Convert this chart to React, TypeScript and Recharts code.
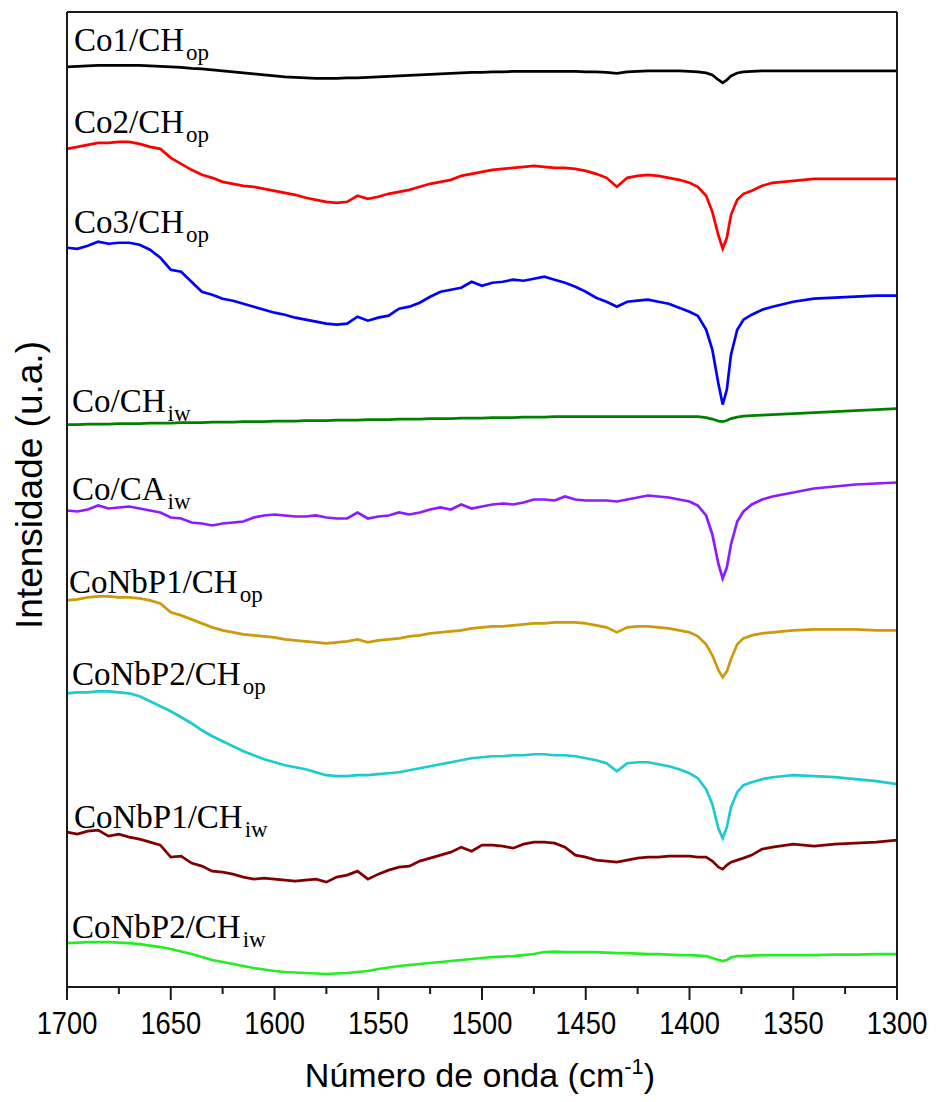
import React from 'react';
import { LineChart, Line, XAxis, YAxis } from 'recharts';

// wavenumbers (cm-1)
const wavenumbers = [
  1700, 1695, 1690, 1685, 1680, 1675, 1670, 1665, 1660, 1655,
  1650, 1645, 1640, 1635, 1630, 1625, 1620, 1615, 1610, 1605,
  1600, 1595, 1590, 1585, 1580, 1575, 1570, 1565, 1560, 1555,
  1550, 1545, 1540, 1535, 1530, 1525, 1520, 1515, 1510, 1505,
  1500, 1495, 1490, 1485, 1480, 1475, 1470, 1465, 1460, 1455,
  1450, 1445, 1440, 1435, 1430, 1425, 1420, 1415, 1410, 1405,
  1400,
  1396, 1392, 1389, 1386, 1384, 1382, 1380, 1377, 1374, 1370, 1365, 1360,
  1350, 1340, 1330, 1320, 1310, 1300,
];

// stacked intensities (a.u.), one array per sample
const co1CHop = [
  933, 933.5, 934, 934.5, 934.5, 934.5, 934.5, 934.5, 934, 933.5,
  933, 932.5, 931.5, 931, 930, 929, 928, 927, 926, 925,
  924, 923, 922.5, 922, 921.5, 921.5, 921.5, 922, 922, 922.5,
  923, 923.5, 924, 924.5, 925, 925.5, 926, 926.5, 927, 927.5,
  927.5, 928, 928, 928.5, 928.5, 928.5, 928.5, 928.5, 928.5, 928.5,
  928, 928, 927.5, 926.5, 928, 928.5, 929, 929, 929, 929,
  928.5,
  928, 927, 925, 920, 917, 920, 924, 927, 928, 928.5, 929, 929,
  929, 929, 929, 929, 929, 929,
];
const co2CHop = [
  851, 853, 855, 857, 857, 858, 858, 856, 853, 851,
  842, 836, 830, 825, 822, 818, 816, 814, 813, 811,
  809, 807, 805, 802, 800, 798, 797, 798, 804, 801,
  803, 806, 808, 810, 813, 816, 818, 820, 824, 826,
  828, 830, 831, 832, 833, 834, 833, 832, 832, 831,
  829, 826, 822, 813, 822, 824, 825, 824, 822, 820,
  817,
  813, 804, 788, 764, 751, 762, 785, 800, 806, 809, 814, 817,
  819, 821, 821, 821, 821, 821,
];
const co3CHop = [
  752, 751, 754, 758, 756, 757, 757, 755, 750, 742,
  730, 728, 718, 708, 705, 701, 699, 696, 693, 690,
  687, 685, 682, 680, 678, 676, 675, 676, 683, 679,
  682, 684, 691, 693, 697, 703, 708, 710, 712, 718,
  714, 717, 718, 720, 719, 721, 723, 720, 717, 713,
  708, 702, 698, 693, 698, 699, 700, 698, 696, 692,
  688,
  684, 670, 650, 615, 595, 610, 645, 670, 680, 685, 690, 693,
  698, 701, 702, 703, 704, 704,
];
const coCHiw = [
  575, 575, 575.5, 575.5, 575.5, 576, 576, 576, 576.5, 576.5,
  576.5, 577, 577, 577, 577.5, 577.5, 577.5, 578, 578, 578,
  578.5, 578.5, 578.5, 579, 579, 579, 579.5, 579.5, 579.5, 580,
  580, 580, 580.5, 580.5, 580.5, 581, 581, 581, 581.5, 581.5,
  581.5, 582, 582, 582, 582.5, 582.5, 582.5, 583, 583, 583,
  583, 583, 583, 583, 583, 583, 583, 583, 583, 583,
  583,
  583, 582, 580.5, 578.5, 578, 579, 581, 582.5, 583.5, 584, 584.5, 585,
  586, 587, 588, 589, 590, 591,
];
const coCAiw = [
  489, 488, 490, 494, 491, 492, 493, 491, 489, 487,
  482, 481, 477, 476, 474, 476, 477, 478, 482, 484,
  485, 484, 483, 483, 484, 482, 481, 481, 487, 481,
  483, 484, 487, 485, 487, 490, 492, 490, 495, 491,
  493, 495, 496, 495, 497, 500, 500, 499, 503, 500,
  499, 499, 499, 498, 500, 502, 504, 503, 502, 500,
  498,
  494, 484, 465, 435, 421, 432, 455, 478, 488, 495, 500, 503,
  507, 511, 513, 515, 516, 517,
];
const coNbP1CHop = [
  399, 400, 402, 403, 403, 402, 402, 401, 399, 396,
  387, 384, 380, 376, 372, 369, 367, 365, 364, 363,
  362, 360, 359, 358, 357, 356, 357, 358, 360, 357,
  359, 360, 361, 363, 364, 366, 367, 368, 369, 371,
  372, 373, 373, 374, 375, 376, 376, 377, 377, 377,
  376, 374, 372, 367, 372, 373, 373, 372, 371, 369,
  367,
  363, 355, 344, 329, 322, 328, 340, 355, 361, 364, 366, 367,
  369, 370, 370, 370, 369, 369,
];
const coNbP2CHop = [
  306, 307, 307, 308, 308, 307, 306, 303, 298, 293,
  288, 282, 276, 269, 263, 258, 253, 248, 244, 240,
  237, 234, 232, 230, 227, 224, 223, 223, 224, 224,
  225, 226, 227, 229, 231, 233, 235, 237, 239, 241,
  242, 243, 243, 244, 244, 245, 245, 244, 244, 243,
  241, 239, 236, 228, 236, 237, 237, 235, 233, 230,
  226,
  221, 210, 195, 170, 161, 172, 192, 207, 214, 217, 220, 222,
  224, 223, 222, 220, 218, 215,
];
const coNbP1CHiw = [
  167, 165, 168, 169, 163, 165, 162, 160, 157, 154,
  142, 143, 136, 133, 128, 127, 125, 122, 120, 121,
  120, 119, 118, 119, 120, 117, 122, 124, 128, 120,
  125, 129, 132, 133, 138, 141, 144, 147, 152, 148,
  154, 154, 153, 151, 155, 157, 157, 156, 152, 144,
  142, 139, 138, 137, 139, 141, 142, 142, 143, 143,
  143,
  142, 142, 138, 132, 130, 134, 137, 139, 141, 144, 150, 152,
  155, 153, 155, 156, 157, 159,
];
const coNbP2CHiw = [
  56, 56.5, 57, 57, 57, 56.5, 56, 55, 53.5, 52,
  50, 47.5, 45, 42, 39, 37, 35, 33, 31, 29.5,
  28, 27, 26.5, 26, 25.5, 25, 25.5, 26, 27, 28,
  30, 31.5, 33, 34, 35, 36, 37, 38, 39, 40,
  41, 42, 42.5, 43, 44, 45, 47, 47.5, 47, 47,
  47, 47, 46.5, 46, 46, 45.5, 45, 45, 44.5, 44,
  44,
  43.5, 43, 41, 39, 38, 39, 41.5, 43, 43, 43.5, 44, 44,
  44, 44, 44.5, 44.5, 45, 45,
];

const majorTicks = [1700, 1650, 1600, 1550, 1500, 1450, 1400, 1350, 1300];
const allTicks = [1700, 1675, 1650, 1625, 1600, 1575, 1550, 1525, 1500, 1475, 1450, 1425, 1400, 1375, 1350, 1325, 1300];

const series = [
  { key: 'co1', values: co1CHop, color: '#000000', name: 'Co1/CH', sub: 'op', x: 74, y: 51 },
  { key: 'co2', values: co2CHop, color: '#ff0000', name: 'Co2/CH', sub: 'op', x: 74, y: 133 },
  { key: 'co3', values: co3CHop, color: '#0000ff', name: 'Co3/CH', sub: 'op', x: 74, y: 233 },
  { key: 'coiw', values: coCHiw, color: '#008000', name: 'Co/CH', sub: 'iw', x: 72, y: 412 },
  { key: 'coca', values: coCAiw, color: '#8b1cff', name: 'Co/CA', sub: 'iw', x: 72, y: 500 },
  { key: 'nb1op', values: coNbP1CHop, color: '#cc9a0a', name: 'CoNbP1/CH', sub: 'op', x: 69, y: 593 },
  { key: 'nb2op', values: coNbP2CHop, color: '#1ccbcf', name: 'CoNbP2/CH', sub: 'op', x: 72, y: 685 },
  { key: 'nb1iw', values: coNbP1CHiw, color: '#800000', name: 'CoNbP1/CH', sub: 'iw', x: 74, y: 828 },
  { key: 'nb2iw', values: coNbP2CHiw, color: '#22ee22', name: 'CoNbP2/CH', sub: 'iw', x: 72, y: 938 },
];

const rows = wavenumbers.map((w, i) => {
  const row: Record<string, number> = { w };
  series.forEach((s) => {
    row[s.key] = s.values[i];
  });
  return row;
});

const W = 936;
const H = 1102;
const AXIS = '#1a1a1a';

// major ticks get a long mark and a label, minor ones a short mark only
function XTick(props: any) {
  const { x, y, payload } = props;
  const major = majorTicks.includes(payload.value);
  return (
    <g>
      <line x1={x} x2={x} y1={y} y2={y + (major ? 13 : 7)} stroke={AXIS} strokeWidth={2} />
      {major && (
        <text
          transform={`translate(${x},${y + 47}) scale(0.88,1)`}
          textAnchor="middle"
          fontFamily="'Liberation Sans', Arial, sans-serif"
          fontSize={31}
          fill="#000"
        >
          {payload.value}
        </text>
      )}
    </g>
  );
}

export default function App() {
  return (
    <div style={{ position: 'absolute', left: 0, top: 0, width: W, height: H, background: '#fff' }}>
      <LineChart
        width={W}
        height={H}
        data={rows}
        margin={{ top: 10, right: 37, bottom: 55, left: 65 }}
      >
        <XAxis
          dataKey="w"
          type="number"
          domain={[1300, 1700]}
          reversed
          ticks={allTicks}
          interval={0}
          height={60}
          tickSize={0}
          tickMargin={0}
          tick={<XTick />}
          tickLine={false}
          axisLine={{ stroke: AXIS, strokeWidth: 2 }}
        />
        <XAxis
          xAxisId="top"
          orientation="top"
          dataKey="w"
          type="number"
          domain={[1300, 1700]}
          reversed
          height={2}
          tick={false}
          tickLine={false}
          axisLine={{ stroke: AXIS, strokeWidth: 2 }}
        />
        <YAxis
          type="number"
          domain={[12, 988]}
          width={2}
          tick={false}
          tickLine={false}
          axisLine={{ stroke: AXIS, strokeWidth: 2 }}
        />
        <YAxis
          yAxisId="right"
          orientation="right"
          type="number"
          domain={[12, 988]}
          width={2}
          tick={false}
          tickLine={false}
          axisLine={{ stroke: AXIS, strokeWidth: 2 }}
        />
        {series.map((s) => (
          <Line
            key={s.key}
            dataKey={s.key}
            type="linear"
            stroke={s.color}
            strokeWidth={2.7}
            dot={false}
            activeDot={false}
            isAnimationActive={false}
          />
        ))}
      </LineChart>
      <svg
        width={W}
        height={H}
        style={{ position: 'absolute', left: 0, top: 0, pointerEvents: 'none' }}
      >
        {series.map((s) => (
          <text
            key={s.key}
            x={s.x}
            y={s.y}
            fontFamily="'Liberation Serif', 'Times New Roman', serif"
            fontSize={33}
            fill="#000"
          >
            {s.name}
            <tspan dx={2} dy={9} fontSize={23}>
              {s.sub}
            </tspan>
          </text>
        ))}
        <text
          x={480}
          y={1087}
          textAnchor="middle"
          fontFamily="'Liberation Sans', Arial, sans-serif"
          fontSize={34}
          fill="#000"
        >
          Número de onda (cm
          <tspan dy={-13} fontSize={22}>-1</tspan>
          <tspan dy={13}>)</tspan>
        </text>
        <text
          transform="translate(42,485) rotate(-90)"
          textAnchor="middle"
          fontFamily="'Liberation Sans', Arial, sans-serif"
          fontSize={37}
          fill="#000"
        >
          Intensidade (u.a.)
        </text>
      </svg>
    </div>
  );
}
